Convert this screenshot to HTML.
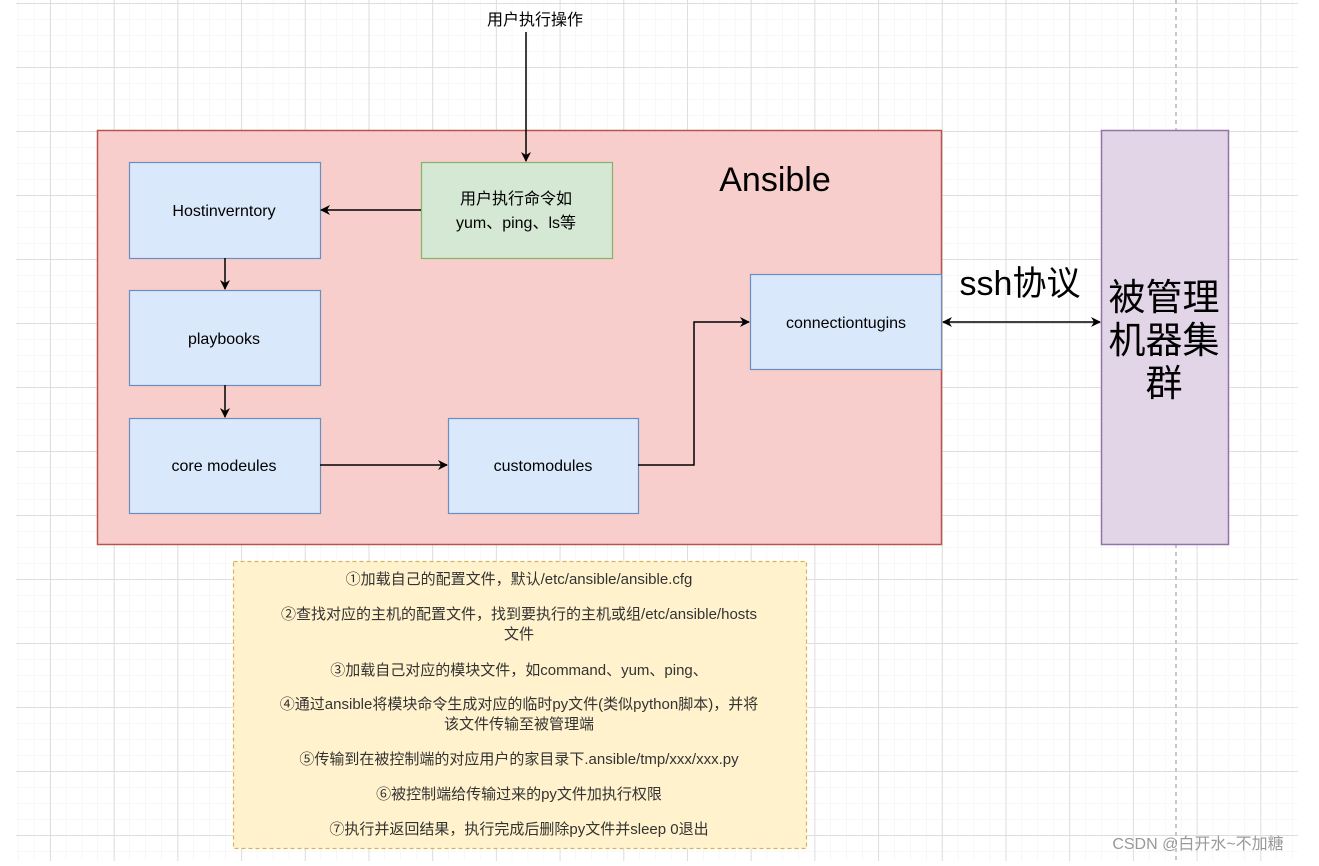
<!DOCTYPE html>
<html><head><meta charset="utf-8"><style>
html,body{margin:0;padding:0;background:#fff;}
svg text{font-family:"Liberation Sans","Noto Sans CJK SC",sans-serif;}
</style></head><body>
<svg width="1319" height="861" viewBox="0 0 1319 861" xmlns="http://www.w3.org/2000/svg">
<defs>
<pattern id="minor" x="2" y="3" width="15.93" height="16" patternUnits="userSpaceOnUse">
<path d="M0 0H16M0 0V16" stroke="#f0f0f0" stroke-width="1" fill="none"/>
</pattern>
<pattern id="major" x="50" y="3" width="63.7" height="64" patternUnits="userSpaceOnUse">
<path d="M0 0.5H64M0.5 0V64" stroke="#dedede" stroke-width="1" fill="none"/>
</pattern>
<marker id="ar" markerWidth="10" markerHeight="10" refX="9" refY="5" orient="auto" markerUnits="userSpaceOnUse">
<path d="M0 0L10 5L0 10L3 5Z" fill="#000"/>
</marker>
<marker id="al" markerWidth="10" markerHeight="10" refX="1" refY="5" orient="auto" markerUnits="userSpaceOnUse">
<path d="M10 0L0 5L10 10L7 5Z" fill="#000"/>
</marker>
</defs>
<rect x="16" y="0" width="1282" height="861" fill="url(#minor)"/>
<rect x="16" y="0" width="1282" height="861" fill="url(#major)"/>
<line x1="1176" y1="0" x2="1176" y2="861" stroke="#c8c8c8" stroke-width="2" stroke-dasharray="4,4"/>

<rect x="97.5" y="130.5" width="844" height="414" fill="#f8cecc" stroke="#b85450" stroke-width="1.5"/>
<rect x="1101.5" y="130.5" width="127" height="414" fill="#e1d5e7" stroke="#9673a6" stroke-width="1.5"/>

<g fill="#dae8fc" stroke="#6c8ebf" stroke-width="1.2">
<rect x="129.5" y="162.5" width="191" height="96"/>
<rect x="129.5" y="290.5" width="191" height="95"/>
<rect x="129.5" y="418.5" width="191" height="95"/>
<rect x="448.5" y="418.5" width="190" height="95"/>
<rect x="750.5" y="274.5" width="191" height="95"/>
</g>
<rect x="421.5" y="162.5" width="191" height="96" fill="#d5e8d4" stroke="#82b366" stroke-width="1.2"/>
<rect x="233.5" y="561.5" width="573" height="287" fill="#fff2cc" stroke="#d6b656" stroke-width="1.2" stroke-dasharray="4,3"/>

<g stroke="#000" stroke-width="1.5" fill="none">
<line x1="526" y1="32" x2="526" y2="161" marker-end="url(#ar)"/>
<line x1="421" y1="210" x2="321" y2="210" marker-end="url(#ar)"/>
<line x1="225" y1="258" x2="225" y2="289" marker-end="url(#ar)"/>
<line x1="225" y1="385" x2="225" y2="417" marker-end="url(#ar)"/>
<line x1="320" y1="465" x2="447" y2="465" marker-end="url(#ar)"/>
<polyline points="638,465 694,465 694,322 749,322" marker-end="url(#ar)"/>
<line x1="943" y1="322" x2="1100" y2="322" marker-start="url(#al)" marker-end="url(#ar)"/>
</g>

<g font-size="16" text-anchor="middle" fill="#000">
<text x="535" y="25">用户执行操作</text>
<text x="224" y="216">Hostinverntory</text>
<text x="224" y="344">playbooks</text>
<text x="224" y="471">core modeules</text>
<text x="543" y="471">customodules</text>
<text x="846" y="328">connectiontugins</text>
<text x="516" y="204">用户执行命令如</text>
<text x="516" y="228">yum、ping、ls等</text>
</g>
<text x="775" y="191" font-size="34" text-anchor="middle">Ansible</text>
<text x="1020" y="295" font-size="34" text-anchor="middle">ssh协议</text>
<g font-size="37" text-anchor="middle">
<text x="1164" y="310">被管理</text>
<text x="1164" y="353">机器集</text>
<text x="1164" y="396">群</text>
</g>
<g font-size="15" text-anchor="middle" fill="#333">
<text x="519" y="584">①加载自己的配置文件，默认/etc/ansible/ansible.cfg</text>
<text x="519" y="619">②查找对应的主机的配置文件，找到要执行的主机或组/etc/ansible/hosts</text>
<text x="519" y="639">文件</text>
<text x="519" y="675">③加载自己对应的模块文件，如command、yum、ping、</text>
<text x="519" y="709">④通过ansible将模块命令生成对应的临时py文件(类似python脚本)，并将</text>
<text x="519" y="729">该文件传输至被管理端</text>
<text x="519" y="764">⑤传输到在被控制端的对应用户的家目录下.ansible/tmp/xxx/xxx.py</text>
<text x="519" y="799">⑥被控制端给传输过来的py文件加执行权限</text>
<text x="519" y="834">⑦执行并返回结果，执行完成后删除py文件并sleep 0退出</text>
</g>
<text x="1198" y="849" font-size="16" text-anchor="middle" fill="#999">CSDN @白开水~不加糖</text>
</svg>
</body></html>
